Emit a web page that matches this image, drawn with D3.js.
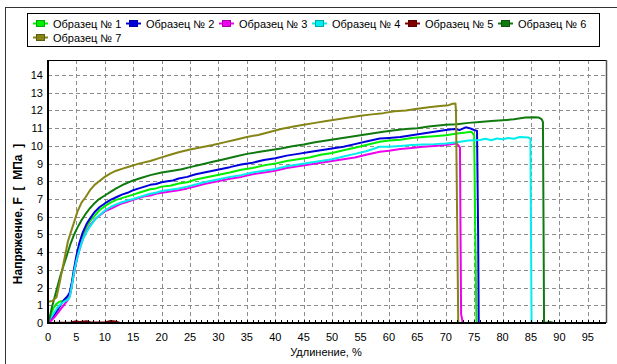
<!DOCTYPE html>
<html>
<head>
<meta charset="utf-8">
<script src="https://cdn.jsdelivr.net/npm/d3@7"></script>
<style>
  body { margin: 0; background: #fff; }
  svg { display: block; font-family: Arial, "Liberation Sans", sans-serif; }
</style>
</head>
<body>
<svg id="chart" width="617" height="364"></svg>
<script>
// series names / colours
const seriesNames = ["Образец № 1", "Образец № 2", "Образец № 3", "Образец № 4", "Образец № 5", "Образец № 6", "Образец № 7"];
const seriesColors = ["#00ee00", "#0000dd", "#ee00ee", "#00eeee", "#800000", "#107a10", "#858515"];

// tick labels
const xTicks = d3.range(0, 100, 5);
const yTicks = d3.range(0, 15, 1);

// [elongation %, stress MPa]
const sample1 = [[0,0],[0.4,0.4],[0.9,0.8],[1.4,1.05],[2,1.2],[2.6,1.25],[3.2,1.3],[3.7,1.4],[4.1,2.0],[4.5,2.8],[4.9,3.4],[5.3,4.0],[5.8,4.6],[6.3,5.1],[6.9,5.5],[7.5,5.8],[8.2,6.05],[9,6.35],[10,6.6],[11,6.8],[12,6.95],[13,7.05],[14,7.15],[15,7.25],[16,7.35],[17,7.45],[18,7.55],[19,7.6],[20,7.7],[21.5,7.75],[23,7.88],[24.5,7.95],[26,8.1],[27.5,8.2],[29,8.3],[30.5,8.4],[32,8.5],[34,8.65],[36,8.75],[38,8.9],[40,9.0],[42,9.15],[44,9.25],[46,9.35],[48,9.5],[50,9.6],[52,9.75],[54,9.9],[56,10.05],[58.4,10.23],[60,10.3],[62,10.35],[64,10.45],[66,10.5],[68,10.55],[70,10.6],[72,10.7],[73.5,10.75],[74.5,10.8],[75,10.6],[75.2,5],[75.4,0],[75.8,0]];
const sample2 = [[0,0],[0.5,0.15],[1,0.4],[1.6,0.7],[2.2,1.0],[2.8,1.3],[3.4,1.5],[3.8,1.7],[4.2,2.3],[4.6,3.1],[5.0,3.8],[5.5,4.5],[6.1,5.1],[6.8,5.6],[7.5,5.95],[8.3,6.3],[9.1,6.55],[10,6.75],[11,6.95],[12,7.1],[13,7.25],[14,7.35],[15,7.5],[16,7.6],[17,7.7],[18,7.8],[19,7.85],[20,7.95],[21,8.0],[22,8.05],[23,8.16],[24.5,8.25],[26,8.4],[27.5,8.5],[29,8.6],[30.5,8.7],[32,8.8],[34,8.95],[36,9.05],[38,9.2],[40,9.3],[42,9.45],[44,9.55],[46,9.65],[48,9.75],[50,9.85],[52,9.95],[54,10.1],[56,10.25],[58.4,10.42],[60,10.45],[62,10.5],[64,10.6],[66,10.7],[68,10.8],[70,10.9],[71.5,10.95],[72.5,10.9],[73.5,11.05],[74.2,11.0],[75,10.9],[75.5,10.85],[75.7,5],[75.8,0],[76,0]];
const sample3 = [[0,0],[0.6,0.15],[1.2,0.35],[1.8,0.6],[2.4,0.85],[3,1.1],[3.5,1.3],[3.9,1.6],[4.3,2.3],[4.7,3.0],[5.1,3.6],[5.6,4.2],[6.2,4.8],[6.9,5.25],[7.6,5.6],[8.4,5.9],[9.2,6.1],[10,6.3],[11,6.45],[12,6.6],[13,6.75],[14,6.85],[15,6.95],[16,7.05],[17,7.15],[18,7.2],[19,7.3],[20,7.35],[21.5,7.42],[23,7.5],[24.5,7.6],[26,7.72],[27.5,7.85],[29,7.95],[30.5,8.05],[32,8.15],[34,8.25],[36,8.4],[38,8.5],[40,8.6],[42,8.75],[44,8.85],[46,8.95],[48,9.05],[50,9.15],[52,9.25],[54,9.35],[56,9.5],[58.4,9.67],[60,9.72],[62,9.82],[64,9.88],[66,9.95],[68,10.0],[70,10.05],[71.2,10.1],[71.9,10.14],[72.3,10.0],[72.5,9.9],[72.6,5],[72.7,0.5],[73.0,0],[73.2,0]];
const sample4 = [[0,0.1],[0.5,0.3],[1,0.55],[1.6,0.85],[2.2,1.05],[2.8,1.2],[3.4,1.3],[3.8,1.45],[4.2,2.1],[4.6,2.9],[5.0,3.5],[5.5,4.1],[6.1,4.7],[6.8,5.15],[7.5,5.5],[8.3,5.85],[9.1,6.1],[10,6.35],[11,6.55],[12,6.7],[13,6.82],[14,6.92],[15,7.0],[16,7.1],[17,7.2],[18,7.3],[19,7.35],[20,7.45],[21.5,7.52],[23,7.6],[24.5,7.7],[26,7.82],[27.5,7.95],[29,8.05],[30.5,8.15],[32,8.25],[34,8.35],[36,8.5],[38,8.6],[40,8.7],[42,8.85],[44,8.95],[46,9.05],[48,9.15],[50,9.25],[52,9.4],[54,9.55],[56,9.7],[58.4,9.95],[60,9.95],[62,10.0],[64,10.05],[66,10.08],[68,10.1],[70,10.14],[72,10.2],[74,10.3],[76,10.33],[77,10.4],[78,10.32],[79,10.42],[80,10.37],[81,10.45],[82,10.4],[83,10.5],[84.5,10.48],[84.9,10.4],[85.0,5],[85.1,0],[85.8,0]];
const sample5 = [[0,0],[2,0.02],[4,0.03],[5,0.1],[5.6,0.05],[6.8,0.1],[7.5,0.03],[10,0.03],[11,0.12],[11.8,0.08],[12.6,0.02]];
const sample6 = [[0,0],[0.3,0.3],[0.7,0.9],[1.2,1.5],[1.7,2.1],[2.2,2.7],[2.8,3.3],[3.4,3.9],[4.0,4.5],[4.6,5.0],[5.2,5.4],[5.8,5.75],[6.5,6.1],[7.3,6.45],[8,6.7],[9,7.0],[10,7.2],[11,7.4],[12,7.6],[13.5,7.85],[15,8.05],[16.5,8.2],[18,8.35],[20,8.5],[22,8.6],[23.5,8.68],[25,8.8],[27,8.95],[29,9.1],[31,9.25],[33,9.4],[35,9.55],[37,9.65],[39,9.75],[41,9.85],[43,9.98],[45,10.08],[47,10.2],[49,10.3],[51,10.4],[53,10.5],[55,10.6],[57,10.7],[59,10.8],[61,10.88],[63,10.95],[65,11.0],[67,11.1],[70,11.2],[72,11.22],[74,11.3],[76,11.35],[78,11.4],[80,11.45],[82,11.5],[84,11.6],[85.5,11.62],[86.4,11.6],[86.9,11.5],[87.1,11.35],[87.2,6],[87.3,0],[88.5,0.05],[89,0]];
const sample7 = [[0,1.2],[0.8,1.25],[1.5,1.45],[2.0,2.2],[2.5,3.0],[3.0,3.8],[3.5,4.6],[4.0,5.1],[4.6,5.7],[5.2,6.3],[5.9,6.8],[6.6,7.1],[7.4,7.5],[8.2,7.8],[9,8.0],[10,8.25],[11,8.45],[12,8.6],[13,8.7],[14.5,8.85],[16,9.0],[18,9.15],[20,9.35],[21.5,9.5],[23,9.64],[25,9.8],[27,9.92],[29,10.05],[31,10.2],[33,10.35],[35,10.5],[37,10.62],[39,10.78],[41,10.95],[43,11.08],[45,11.2],[47,11.3],[49,11.4],[51,11.5],[53,11.6],[55,11.7],[57,11.78],[59,11.85],[61,11.95],[63,12.0],[65,12.1],[67,12.18],[69,12.25],[70.5,12.3],[71.2,12.38],[71.7,12.4],[71.8,12.0],[72.0,6],[72.2,0],[72.4,0]];

const samples = [sample1, sample2, sample3, sample4, sample5, sample6, sample7];

const svg = d3.select("#chart");

// outer frame (cropped at right / bottom)
svg.append("path")
  .attr("d", "M5.5,364V7.5H617")
  .attr("fill", "none")
  .attr("stroke", "#333")
  .attr("shape-rendering", "crispEdges");

const plotLeft = 48, plotRight = 606, plotTop = 60, plotBottom = 323;

const x = d3.scaleLinear().domain([0, 98.2]).range([plotLeft, plotRight]);
const y = d3.scaleLinear().domain([0, 14.85]).range([plotBottom, plotTop]);

// grid
const grid = svg.append("g")
  .attr("stroke", "#8c8c8c")
  .attr("stroke-dasharray", "4,3")
  .attr("shape-rendering", "crispEdges");

grid.selectAll(".gx")
  .data(xTicks.filter(d => d > 0))
  .enter()
  .append("line")
  .attr("x1", d => Math.round(x(d)) + 0.5)
  .attr("x2", d => Math.round(x(d)) + 0.5)
  .attr("y1", plotTop)
  .attr("y2", plotBottom);

grid.selectAll(".gy")
  .data(yTicks.filter(d => d > 0))
  .enter()
  .append("line")
  .attr("x1", plotLeft)
  .attr("x2", plotRight)
  .attr("y1", d => Math.round(y(d)) + 0.5)
  .attr("y2", d => Math.round(y(d)) + 0.5);

// top / right border
svg.append("line")
  .attr("x1", plotLeft).attr("x2", plotRight)
  .attr("y1", plotTop + 0.5).attr("y2", plotTop + 0.5)
  .attr("stroke", "#000")
  .attr("shape-rendering", "crispEdges");
svg.append("line")
  .attr("x1", plotRight + 0.5).attr("x2", plotRight + 0.5)
  .attr("y1", plotTop).attr("y2", plotBottom)
  .attr("stroke", "#555")
  .attr("stroke-width", 1.5);

// curves
const line = d3.line()
  .x(d => x(d[0]))
  .y(d => y(d[1]));

svg.append("g")
  .selectAll("path")
  .data(samples)
  .enter()
  .append("path")
  .attr("d", line)
  .attr("fill", "none")
  .attr("stroke", (d, i) => seriesColors[i])
  .attr("stroke-width", 2)
  .attr("stroke-linejoin", "round");

// axes lines (thick)
svg.append("line")
  .attr("x1", plotLeft).attr("x2", plotLeft)
  .attr("y1", plotTop).attr("y2", plotBottom + 1)
  .attr("stroke", "#000").attr("stroke-width", 2);
svg.append("line")
  .attr("x1", plotLeft - 1).attr("x2", plotRight)
  .attr("y1", plotBottom).attr("y2", plotBottom)
  .attr("stroke", "#000").attr("stroke-width", 2);

// minor ticks on x axis (every 1%)
svg.append("g")
  .selectAll("line")
  .data(d3.range(1, 98, 1))
  .enter()
  .append("line")
  .attr("x1", d => Math.round(x(d)) + 0.5)
  .attr("x2", d => Math.round(x(d)) + 0.5)
  .attr("y1", plotBottom - 3)
  .attr("y2", plotBottom)
  .attr("stroke", "#000")
  .attr("shape-rendering", "crispEdges");

// tick labels
svg.append("g")
  .selectAll("text")
  .data(xTicks)
  .enter()
  .append("text")
  .attr("x", d => x(d))
  .attr("y", 341)
  .attr("text-anchor", "middle")
  .style("font-size", "11px")
  .text(d => d);

svg.append("g")
  .selectAll("text")
  .data(yTicks)
  .enter()
  .append("text")
  .attr("x", 43)
  .attr("y", d => y(d) + 4)
  .attr("text-anchor", "end")
  .style("font-size", "11px")
  .text(d => d);

// axis titles
svg.append("text")
  .attr("x", 326)
  .attr("y", 356)
  .attr("text-anchor", "middle")
  .style("font-size", "11px")
  .text("Удлинение, %");

svg.append("text")
  .attr("transform", "translate(22,214) rotate(-90)")
  .attr("text-anchor", "middle")
  .style("font-size", "12px")
  .style("font-weight", "bold")
  .style("white-space", "pre")
  .attr("xml:space", "preserve")
  .text("Напряжение, F  [  МПа  ]");

// legend
svg.append("rect")
  .attr("x", 27.5).attr("y", 13.5)
  .attr("width", 572).attr("height", 33)
  .attr("fill", "#fff")
  .attr("stroke", "#000")
  .attr("shape-rendering", "crispEdges");

const legendItems = svg.append("g")
  .selectAll("g")
  .data(seriesNames)
  .enter()
  .append("g")
  .attr("transform", (d, i) => i < 6
    ? `translate(${33 + i * 93},23.5)`
    : `translate(33,37.5)`);

legendItems.append("line")
  .attr("x1", 0).attr("x2", 15)
  .attr("stroke", (d, i) => seriesColors[i])
  .attr("stroke-width", 2);
legendItems.append("rect")
  .attr("x", 3.5).attr("y", -3)
  .attr("width", 8).attr("height", 6)
  .attr("fill", (d, i) => seriesColors[i])
  .attr("stroke", (d, i) => d3.color(seriesColors[i]).darker(1));
legendItems.append("text")
  .attr("x", 20)
  .attr("y", 4)
  .style("font-size", "11px")
  .text(d => d);
</script>
</body>
</html>
